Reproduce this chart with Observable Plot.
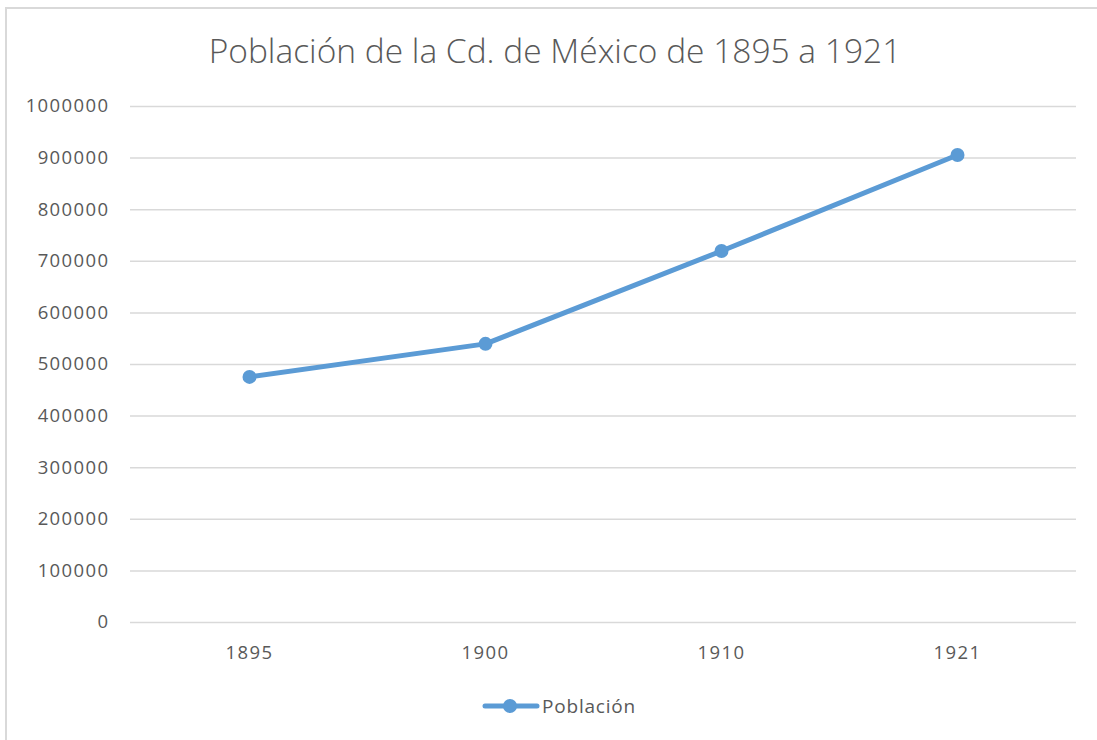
<!DOCTYPE html>
<html>
<head>
<meta charset="utf-8">
<script src="https://cdn.jsdelivr.net/npm/d3@7"></script>
<script src="https://cdn.jsdelivr.net/npm/@observablehq/plot@0.6"></script>
<style>
  html, body { margin: 0; padding: 0; background: #fff; }
  #wrap { position: relative; width: 1097px; height: 740px; overflow: hidden; font-family: "Open Sans", sans-serif; }
  #border { position: absolute; left: 5px; top: 7px; width: 1100px; height: 800px; border: 2px solid #d9d9d9; box-sizing: border-box; }
  #title { position: absolute; left: 0; top: 27px; width: 1110px; text-align: center; font-size: 33.5px; color: #595959; font-weight: 300; }
  #chart { position: absolute; left: 0; top: 90px; }
  #chart svg text { letter-spacing: 1.4px; }
  #legend { position: absolute; top: 693px; left: 482px; display: flex; align-items: center; font-size: 19px; letter-spacing: 0.8px; color: #595959; }
  #legend svg { display: block; }
</style>
</head>
<body>
<div id="wrap">
  <div id="border"></div>
  <div id="title">Población de la Cd. de México de 1895 a 1921</div>
  <div id="chart"></div>
  <div id="legend"></div>
</div>
<script>
const years = ["1895", "1900", "1910", "1921"];
const poblacion = [476000, 540000, 720000, 906000];
const yTicks = [0, 100000, 200000, 300000, 400000, 500000, 600000, 700000, 800000, 900000, 1000000];
const seriesName = "Población";
const color = "#5b9bd5";

const data = years.map((y, i) => ({year: y, value: poblacion[i]}));

const chart = Plot.plot({
  width: 1097,
  height: 590,
  marginLeft: 130,
  marginRight: 21,
  marginTop: 16,
  marginBottom: 58,
  style: {fontFamily: "Open Sans, sans-serif", fontSize: "18.5px", color: "#595959", background: "transparent"},
  x: {type: "point", domain: years, padding: 0.5, label: null},
  y: {domain: [0, 1000000], label: null},
  marks: [
    Plot.ruleY(yTicks, {stroke: "#d9d9d9", strokeWidth: 1.5, strokeOpacity: 1}),
    Plot.axisY({ticks: yTicks, tickSize: 0, tickPadding: 21, tickFormat: d => String(d), label: null, fill: "#595959"}),
    Plot.axisX({tickSize: 0, tickPadding: 23, label: null, fill: "#595959"}),
    Plot.line(data, {x: "year", y: "value", stroke: color, strokeWidth: 5, strokeLinecap: "round", strokeLinejoin: "round"}),
    Plot.dot(data, {x: "year", y: "value", r: 7, fill: color, stroke: null})
  ]
});
document.getElementById("chart").appendChild(chart);

// legend
const leg = document.getElementById("legend");
const ns = "http://www.w3.org/2000/svg";
const sw = document.createElementNS(ns, "svg");
sw.setAttribute("width", 58); sw.setAttribute("height", 26);
const ln = document.createElementNS(ns, "line");
ln.setAttribute("x1", 3); ln.setAttribute("x2", 55); ln.setAttribute("y1", 13); ln.setAttribute("y2", 13);
ln.setAttribute("stroke", color); ln.setAttribute("stroke-width", 5); ln.setAttribute("stroke-linecap", "round");
const cc = document.createElementNS(ns, "circle");
cc.setAttribute("cx", 28); cc.setAttribute("cy", 13); cc.setAttribute("r", 7); cc.setAttribute("fill", color);
sw.appendChild(ln); sw.appendChild(cc);
leg.appendChild(sw);
const sp = document.createElement("span");
sp.textContent = seriesName;
sp.style.marginLeft = "2px";
leg.appendChild(sp);
</script>
</body>
</html>
